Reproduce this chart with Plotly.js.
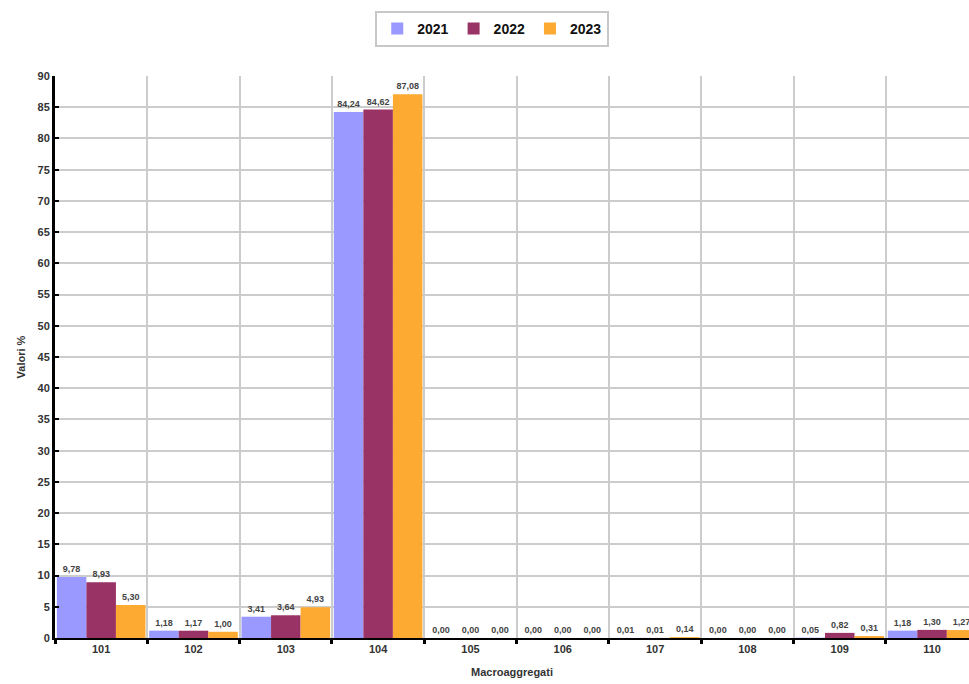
<!DOCTYPE html>
<html>
<head>
<meta charset="utf-8">
<script src="https://cdn.plot.ly/plotly-3.0.1.min.js"></script>
<style>html,body{margin:0;padding:0;background:#fff;overflow:hidden}#chart{width:969px;height:684px}</style>
</head>
<body>
<div id="chart"></div>
<script>
var categories = ["101","102","103","104","105","106","107","108","109","110"];
var years = ["2021","2022","2023"];
var values2021 = [9.78, 1.18, 3.41, 84.24, 0.00, 0.00, 0.01, 0.00, 0.05, 1.18];
var values2022 = [8.93, 1.17, 3.64, 84.62, 0.00, 0.00, 0.01, 0.00, 0.82, 1.30];
var values2023 = [5.30, 1.00, 4.93, 87.08, 0.00, 0.00, 0.14, 0.00, 0.31, 1.27];
var colors = ["#9999ff", "#993366", "#fdaa33"];
var series = [values2021, values2022, values2023];

var traces = series.map(function (vals, i) {
  return {
    type: "bar",
    name: years[i],
    x: categories,
    y: vals,
    marker: {color: colors[i]},
    texttemplate: "%{y:.2f}",
    textposition: "outside",
    constraintext: "none",
    cliponaxis: false,
    textfont: {family: "Liberation Sans, Arial, sans-serif", size: 9, color: "#444", weight: "bold"},
    hoverinfo: "x+y"
  };
});

var layout = {
  width: 969, height: 684,
  margin: {l: 55, r: 0, t: 76, b: 46},
  paper_bgcolor: "#fff", plot_bgcolor: "#fff",
  separators: ",.",
  barmode: "group",
  bargap: 0.04, bargroupgap: 0,
  font: {family: "Liberation Sans, Arial, sans-serif", size: 11, color: "#222", weight: "bold"},
  showlegend: true,
  legend: {
    orientation: "h", xref: "container", yref: "container",
    x: 0.508, xanchor: "center", y: 0.984, yanchor: "top",
    bordercolor: "#c8c8c8", borderwidth: 2, bgcolor: "#fff",
    font: {size: 14, color: "#111", weight: "bold"}
  },
  xaxis: {
    type: "category",
    range: [-0.5, 9.4],
    tickson: "boundaries",
    showgrid: true, gridcolor: "#cccccc", gridwidth: 2,
    showline: true, linecolor: "#000", linewidth: 2,
    ticks: "outside", ticklen: 4, tickcolor: "#000", tickwidth: 3,
    tickfont: {size: 11, color: "#333", weight: "bold"},
    title: {text: "Macroaggregati", font: {size: 11, color: "#333", weight: "bold"}, standoff: 14},
    fixedrange: true, zeroline: false
  },
  yaxis: {
    range: [0, 90], dtick: 5, tick0: 0,
    showgrid: true, gridcolor: "#cccccc", gridwidth: 2,
    showline: true, linecolor: "#000", linewidth: 3,
    ticks: "inside", ticklen: 4, tickcolor: "#000", tickwidth: 2,
    tickfont: {size: 11, color: "#333", weight: "bold"},
    title: {text: "Valori %", font: {size: 11, color: "#333", weight: "bold"}, standoff: 10},
    zeroline: false, fixedrange: true
  }
};

Plotly.newPlot("chart", traces, layout, {displayModeBar: false, staticPlot: true});
</script>
</body>
</html>
